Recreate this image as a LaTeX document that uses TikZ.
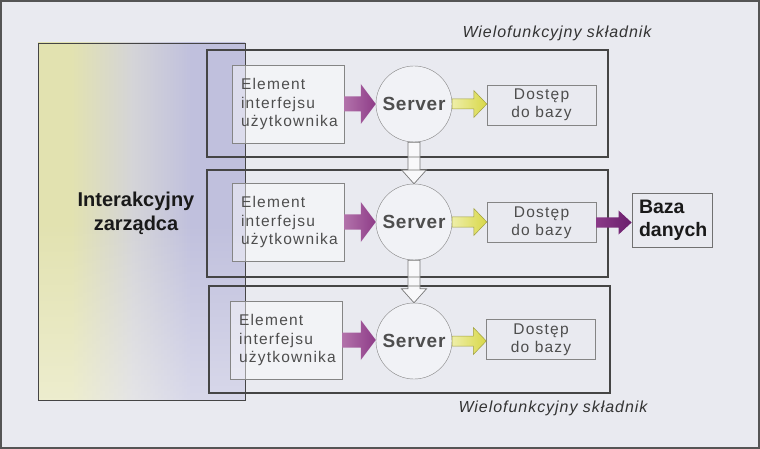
\documentclass[tikz,border=0pt]{standalone}
\usepackage{fontspec}
\setmainfont{Liberation Sans}
\newfontfamily\spacedsans[LetterSpace=8]{Liberation Sans}
\newfontfamily\spacedbold[LetterSpace=4]{Liberation Sans Bold}
\newfontfamily\spacedit[LetterSpace=6]{Liberation Sans Italic}
\usetikzlibrary{calc,fadings}
\definecolor{bg}{HTML}{E9EAF0}
\definecolor{frame}{HTML}{555555}
\definecolor{rowline}{HTML}{454545}
\definecolor{boxline}{HTML}{858585}
\definecolor{eltext}{HTML}{4E4E4E}
\definecolor{mgyellow}{HTML}{E2E2B0}
\definecolor{mgmid}{HTML}{D4D4D8}
\definecolor{mgpurple}{HTML}{C0C0DD}
\definecolor{purpL}{HTML}{B272AA}
\definecolor{purpR}{HTML}{8E3C88}
\definecolor{yelL}{HTML}{EEEEA8}
\definecolor{yelR}{HTML}{D8D848}
\definecolor{yelline}{HTML}{A0A040}
\definecolor{dpurpL}{HTML}{8A3A88}
\definecolor{dpurpR}{HTML}{6A1E6C}
\pgfdeclarehorizontalshading{mgshade}{100bp}{color(0bp)=(mgyellow); color(33bp)=(mgyellow); color(48bp)=(mgmid); color(62bp)=(mgpurple); color(100bp)=(mgpurple)}
\tikzfading[name=lowfade, top color=transparent!100, bottom color=transparent!30]
\newcommand\harrow[6]{\path[#6] let \p1=(#1), \p2=(#2) in
  (\x1,\y1+#3) -- (\x2-#5,\y1+#3) -- (\x2-#5,\y1+#4) -- (\x2,\y1) --
  (\x2-#5,\y1-#4) -- (\x2-#5,\y1-#3) -- (\x1,\y1-#3) -- cycle;}
\newcommand\varrow[6]{\path[#6] let \p1=(#1), \p2=(#2) in
  (\x1-#3,\y1) -- (\x1-#3,\y2+#5) -- (\x1-#4,\y2+#5) -- (\x1,\y2) --
  (\x1+#4,\y2+#5) -- (\x1+#3,\y2+#5) -- (\x1+#3,\y1) -- cycle;}
\tikzset{
  rowbox/.style={draw=rowline, line width=1.1pt},
  elem/.style={draw=boxline, fill=white, fill opacity=0.45, text opacity=1,
    minimum width=112pt, minimum height=78pt, text width=94pt, inner xsep=9pt,
    align=left, text=eltext, font=\spacedsans\fontsize{15.5}{18.5}\selectfont},
  srv/.style={circle, draw=boxline, fill=white, fill opacity=0.4, text opacity=1,
    minimum size=76pt, inner sep=0pt, text=eltext,
    font=\spacedbold\fontsize{19}{22}\selectfont},
  dost/.style={draw=boxline, minimum width=109pt, minimum height=40pt,
    inner sep=0pt, align=center, text=eltext,
    font=\spacedsans\fontsize{15.5}{18}\selectfont},
  label/.style={text=black!80, font=\spacedit\fontsize{16}{18}\selectfont},
  purparrow/.style={left color=purpL, right color=purpR},
  yelarrow/.style={left color=yelL, right color=yelR, draw=yelline, line width=0.5pt},
  dbarrow/.style={left color=dpurpL, right color=dpurpR},
  downarrow/.style={fill=white, fill opacity=0.7, draw=boxline!90!black, line width=0.7pt},
}
\begin{document}
\begin{tikzpicture}[x=1pt,y=-1pt]
\useasboundingbox (0,0) rectangle (760,449);
\fill[bg] (0,0) rectangle (760,449);
\draw[frame, line width=2pt] (1,1) rectangle (759,448);

% manager box
\path[shading=mgshade] (38,43) rectangle (245,400);
\fill[white, path fading=lowfade, fill opacity=0.55] (38,220) rectangle (245,400);
\node[draw=rowline, line width=0.8pt, minimum width=207pt, minimum height=357pt,
  inner sep=0pt] (mgr) at (141.5,221.5) {};
\node[align=center, font=\bfseries\fontsize{20}{24}\selectfont, text=black!90]
  (mgrtext) at (136,213) {Interakcyjny\\zarządca};

% rows
\node[rowbox, minimum width=401pt, minimum height=107pt, inner sep=0pt] (r1) at (407.5,103.5) {};
\node[rowbox, minimum width=401pt, minimum height=107pt, inner sep=0pt] (r2) at (407.5,223.5) {};
\node[rowbox, minimum width=401pt, minimum height=107pt, inner sep=0pt] (r3) at (409.5,339.5) {};

% elements
\node[elem] (e1) at (288,104) {Element\\interfejsu\\użytkownika};
\node[elem] (e2) at (288,222) {Element\\interfejsu\\użytkownika};
\node[elem] (e3) at (286,340) {Element\\interfejsu\\użytkownika};

% servers
\node[srv] (s1) at (414,104) {Server};
\node[srv] (s2) at (414,222) {Server};
\node[srv] (s3) at (414,341) {Server};

% database access
\node[dost] (d1) at (541.5,105) {Dostęp\\do bazy};
\node[dost] (d2) at (541.5,222.5) {Dostęp\\do bazy};
\node[dost] (d3) at (541,339.5) {Dostęp\\do bazy};

% database
\node[draw=boxline!85!black, line width=0.8pt, minimum width=80pt, minimum height=54pt,
  text width=66pt, inner xsep=7pt, align=left,
  font=\bfseries\fontsize{19.5}{23}\selectfont, text=black!90] (bz) at (672,220) {Baza\\danych};

% labels
\node[label] (lt) at (557,33) {Wielofunkcyjny składnik};
\node[label] (lb) at (553,408) {Wielofunkcyjny składnik};

% arrows
\harrow{e1.east}{s1.west}{7.5pt}{20pt}{15pt}{purparrow}
\harrow{e2.east}{s2.west}{7.5pt}{20pt}{15pt}{purparrow}
\harrow{e3.east}{s3.west}{7.5pt}{20pt}{15pt}{purparrow}
\harrow{s1.east}{d1.west}{5pt}{13.5pt}{13pt}{yelarrow}
\harrow{s2.east}{d2.west}{5pt}{13.5pt}{13pt}{yelarrow}
\harrow{s3.east}{d3.west}{5pt}{13.5pt}{13pt}{yelarrow}
\harrow{d2.east}{bz.west}{5pt}{12pt}{13pt}{dbarrow}
\varrow{s1.south}{s2.north}{6pt}{12.5pt}{14pt}{downarrow}
\varrow{s2.south}{s3.north}{6pt}{12.5pt}{14pt}{downarrow}
\end{tikzpicture}
\end{document}
